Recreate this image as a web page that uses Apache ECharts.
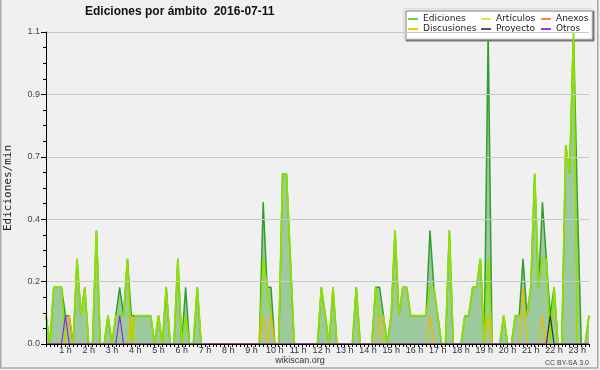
<!DOCTYPE html>
<html><head><meta charset="utf-8">
<script src="https://cdn.jsdelivr.net/npm/echarts@6/dist/echarts.min.js"></script>
<style>html,body{margin:0;padding:0;background:#f0f0f0}#c{width:600px;height:370px}</style>
</head><body><div id="c"></div>
<script>
// hour tick labels
const hourLabels = ["1 h","2 h","3 h","4 h","5 h","6 h","7 h","8 h","9 h","10 h","11 h","12 h",
  "13 h","14 h","15 h","16 h","17 h","18 h","19 h","20 h","21 h","22 h","23 h"];
// categories: 10-minute buckets 00:10 .. 23:30
const times = [];
for (let m = 10; m <= 1410; m += 10) {
  times.push(String(Math.floor(m / 60)).padStart(2, '0') + ':' + String(m % 60).padStart(2, '0'));
}
const ediciones = [
  0.1,0,0.2,0.2,0.2,0.1,0.1,0,0.3,0.1,
  0.2,0,0,0.4,0,0,0.1,0,0.1,0.2,
  0.1,0.3,0.1,0.1,0.1,0.1,0.1,0.1,0,0.1,
  0,0.2,0,0,0.3,0,0.2,0,0,0.2,
  0,0,0,0,0,0,0,0,0,0,
  0,0,0,0,0,0,0.5,0.2,0.2,0,
  0,0.6,0.6,0.3,0,0,0,0,0,0,
  0,0.2,0.1,0,0.2,0,0,0,0,0,
  0.2,0,0,0,0,0.2,0.2,0.1,0,0.1,
  0.4,0.1,0.2,0.2,0.1,0.1,0.1,0.1,0.1,0.4,
  0.2,0.1,0,0,0.4,0,0,0,0.1,0.1,
  0.2,0.2,0.3,0,1.1,0,0,0,0.1,0,
  0,0.1,0.1,0.3,0.1,0.2,0.6,0.2,0.5,0.3,
  0.1,0.2,0,0,0.7,0.6,1.1,0.5,0,0,
  0.1
];
const articulos = [
  0.1,0,0.2,0.2,0.2,0,0,0,0.3,0.1,
  0.2,0,0,0.4,0,0,0.1,0,0.1,0.1,
  0.1,0.3,0,0.1,0.1,0.1,0.1,0.1,0,0.1,
  0,0.2,0,0,0.3,0,0.1,0,0,0.2,
  0,0,0,0,0,0,0,0,0,0,
  0,0,0,0,0,0,0.3,0.2,0.1,0,
  0,0.6,0.6,0.3,0,0,0,0,0,0,
  0,0.2,0.1,0,0.2,0,0,0,0,0,
  0.2,0,0,0,0,0.2,0.1,0.1,0,0.1,
  0.4,0.1,0.2,0.2,0.1,0.1,0.1,0.1,0.1,0.2,
  0.2,0.1,0,0,0.4,0,0,0,0.1,0.1,
  0.2,0.2,0.3,0,0.3,0,0,0,0.1,0,
  0,0.1,0.1,0.1,0.1,0.2,0.6,0.2,0.3,0.3,
  0,0.2,0,0,0.7,0.6,1.1,0,0,0,
  0.1
];
const anexos = [
  0,0,0,0,0,0,0,0,0,0, 0,0,0,0,0,0,0,0,0,0, 0,0,0,0,0,0,0,0,0,0,
  0,0,0,0,0,0,0,0,0,0, 0,0,0,0,0,0,0,0,0,0, 0,0,0,0,0,0,0,0,0,0,
  0,0,0,0,0,0,0,0,0,0, 0,0,0,0,0,0,0,0,0,0, 0,0,0,0,0,0,0,0,0,0,
  0,0,0,0,0,0,0,0,0,0, 0,0,0,0,0,0,0,0,0,0, 0,0,0,0,0,0,0,0,0,0,
  0,0,0,0,0,0,0,0,0,0, 0,0,0,0,0,0,0,0,0,0, 0
];
const discusiones = [
  0,0,0,0,0,0,0.1,0,0,0,
  0,0,0,0,0,0,0,0,0,0,
  0,0,0.1,0,0,0,0,0,0,0,
  0,0,0,0,0,0,0,0,0,0,
  0,0,0,0,0,0,0,0,0,0,
  0,0,0,0,0,0,0.1,0,0.1,0,
  0,0,0,0,0,0,0,0,0,0,
  0,0,0,0,0,0,0,0,0,0,
  0,0,0,0,0,0,0.1,0,0,0,
  0,0,0,0,0,0,0,0,0,0.1,
  0,0,0,0,0,0,0,0,0,0,
  0,0,0,0,0.1,0,0,0,0,0,
  0,0,0,0.2,0,0,0,0,0.1,0,
  0,0,0,0,0,0,0,0,0,0,
  0
];
const proyecto = [
  0,0,0,0,0,0,0,0,0,0, 0,0,0,0,0,0,0,0,0,0, 0,0,0,0,0,0,0,0,0,0,
  0,0,0,0,0,0,0,0,0,0, 0,0,0,0,0,0,0,0,0,0, 0,0,0,0,0,0,0,0,0,0,
  0,0,0,0,0,0,0,0,0,0, 0,0,0,0,0,0,0,0,0,0, 0,0,0,0,0,0,0,0,0,0,
  0,0,0,0,0,0,0,0,0,0, 0,0,0,0,0,0,0,0,0,0, 0,0,0,0,0,0,0,0,0,0,
  0,0,0,0,0,0,0,0,0,0, 0.1,0,0,0,0,0,0,0,0,0, 0
];
const otros = [
  0,0,0,0,0,0.1,0,0,0,0, 0,0,0,0,0,0,0,0,0,0.1, 0,0,0,0,0,0,0,0,0,0,
  0,0,0,0,0,0,0,0,0,0, 0,0,0,0,0,0,0,0,0,0, 0,0,0,0,0,0,0,0,0,0,
  0,0,0,0,0,0,0,0,0,0, 0,0,0,0,0,0,0,0,0,0, 0,0,0,0,0,0,0,0,0,0,
  0,0,0,0,0,0,0,0,0,0, 0,0,0,0,0,0,0,0,0,0, 0,0,0,0,0,0,0,0,0,0,
  0,0,0,0,0,0,0,0,0,0, 0,0,0,0,0,0,0,0,0,0, 0
];
const yMax = 1.1, yInterval = 0.22;

const chart = echarts.init(document.getElementById('c'), null, {renderer: 'canvas'});
function lineSeries(name, data, color, legendColor, width, extra) {
  return Object.assign({
    name, type: 'line', data, symbol: 'none', animation: false,
    lineStyle: {color, width}, itemStyle: {color: legendColor}
  }, extra || {});
}
const legendBase = {
  orient: 'vertical', top: 14, itemWidth: 10, itemHeight: 2, itemGap: 0, icon: 'rect',
  padding: 0, selectedMode: false,
  textStyle: {fontSize: 9, fontFamily: 'DejaVu Sans', color: '#222', lineHeight: 10}
};
chart.setOption({
  backgroundColor: '#f0f0f0',
  animation: false,
  title: {text: 'Ediciones por ámbito  2016-07-11', left: 85, top: 6, padding: 0,
    textStyle: {fontSize: 12, fontWeight: 'bold', fontFamily: 'Liberation Sans', color: '#111'}},
  grid: {left: 46, right: 11, top: 32, bottom: 26, containLabel: false, outerBoundsMode: 'none'},
  legend: [
    Object.assign({}, legendBase, {left: 408, data: ['Ediciones', 'Discusiones']}),
    Object.assign({}, legendBase, {left: 481, data: ['Artículos', 'Proyecto']}),
    Object.assign({}, legendBase, {left: 541, data: ['Anexos', 'Otros']})
  ],
  xAxis: {
    type: 'category', data: times, boundaryGap: false, z: 10,
    axisLine: {show: true, lineStyle: {color: '#000', width: 1}},
    axisTick: {show: true, interval: 0, length: 3, lineStyle: {color: '#000'}},
    axisLabel: {
      interval: (i, v) => v.endsWith(':00'),
      formatter: (v) => hourLabels[parseInt(v, 10) - 1],
      fontSize: 9, fontFamily: 'Liberation Sans', color: '#333', margin: 2
    },
    splitLine: {show: false}
  },
  yAxis: {
    type: 'value', min: 0, max: yMax, interval: yInterval, z: 10,
    name: 'Ediciones/min', nameLocation: 'middle', nameGap: 32,
    nameTextStyle: {fontFamily: 'DejaVu Sans Mono', fontSize: 11, color: '#222'},
    axisLine: {show: true, lineStyle: {color: '#000', width: 1}},
    axisTick: {show: true, length: 5, lineStyle: {color: '#000'}},
    minorTick: {show: true, splitNumber: 4, length: 3, lineStyle: {color: '#000'}},
    axisLabel: {formatter: (v) => v.toFixed(1), fontSize: 9, fontFamily: 'Liberation Sans', color: '#444', margin: 6},
    splitLine: {show: true, lineStyle: {color: '#c8c8c8', width: 1}}
  },
  series: [
    lineSeries('Ediciones', ediciones, '#2f9e2f', '#66cc66', 1.5,
      {areaStyle: {color: '#9dca9d', opacity: 1}, z: 2}),
    lineSeries('Artículos', articulos, '#8fe000', '#c4f050', 1.8, {z: 3}),
    lineSeries('Anexos', anexos, '#ff7f40', '#ff7f40', 1, {z: 3}),
    lineSeries('Discusiones', discusiones, '#f0b800', '#f5c800', 1.2, {z: 3}),
    lineSeries('Proyecto', proyecto, '#333333', '#555555', 1.2, {z: 3}),
    lineSeries('Otros', otros, '#8a2be2', '#9933ff', 1.2, {z: 3})
  ],
  graphic: [
    {type: 'rect', z: 3, shape: {x: 404, y: 9, width: 188, height: 30},
      style: {fill: '#ffffff', stroke: '#cccccc', lineWidth: 1, shadowColor: '#777', shadowOffsetX: 2, shadowOffsetY: 2, shadowBlur: 0}},
    {type: 'rect', z: 20, silent: true, shape: {x: 0.75, y: -3, width: 597, height: 371},
      style: {fill: 'none', stroke: '#a8a8a8', lineWidth: 1.5}},
    {type: 'text', x: 300, y: 361, z: 20,
      style: {text: 'wikiscan.org', fontSize: 9, fontFamily: 'Liberation Sans', fill: '#333', align: 'center', verticalAlign: 'middle'}},
    {type: 'text', x: 589, y: 363, z: 20,
      style: {text: 'CC BY-SA 3.0', fontSize: 7, fontFamily: 'Liberation Sans', fill: '#444', align: 'right', verticalAlign: 'middle'}}
  ]
});
</script>
</body></html>
